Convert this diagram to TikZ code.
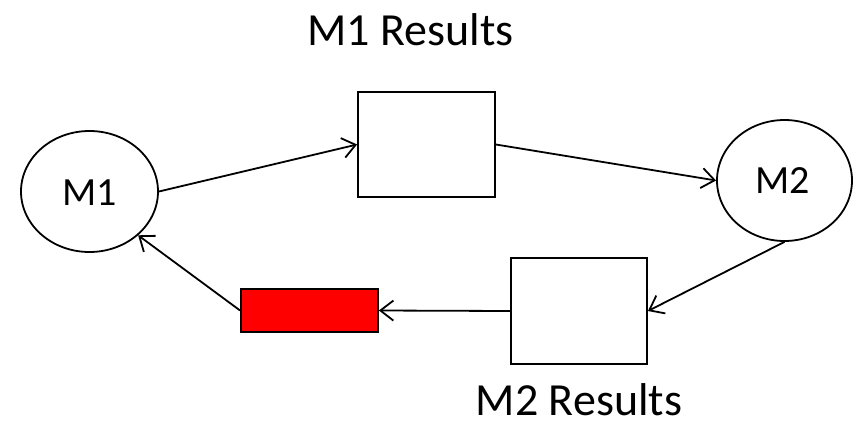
\documentclass[tikz,border=0pt]{standalone}
\usepackage{fontspec}
\setmainfont{Carlito}
\usetikzlibrary{shapes.geometric,arrows.meta}
\tikzset{
  stateell/.style={draw=black,line width=1.8pt,ellipse,inner sep=0pt,fill=white},
  resbox/.style={draw=black,line width=1.8pt,rectangle,inner sep=0pt,fill=white},
  conn/.style={line width=1.8pt,-{Straight Barb[length=13pt,width=20pt,line width=1.8pt]}},
  lbl/.style={font=\fontsize{40}{40}\selectfont,inner sep=0pt},
  ttl/.style={font=\fontsize{46}{46}\selectfont,inner sep=0pt,anchor=base}
}
\begin{document}
\begin{tikzpicture}[x=1pt,y=-1pt]
\useasboundingbox (0,0) rectangle (859,426);
\node[stateell,minimum width=137pt,minimum height=121pt] (m1) at (89.5,191.5) {};
\node[lbl] at (90,193) {M1};
\node[stateell,minimum width=135pt,minimum height=121pt] (m2) at (784.5,180.5) {};
\node[lbl] at (783,181) {M2};
\node[resbox,minimum width=137pt,minimum height=105pt] (b1) at (426.5,144.5) {};
\node[resbox,minimum width=136pt,minimum height=106pt] (b2) at (579,311) {};
\node[resbox,fill=red,minimum width=137pt,minimum height=43pt] (rd) at (309.5,310.5) {};
\node[ttl] (t1) at (410.5,45) {M1 Results};
\node[ttl] (t2) at (579,415) {M2 Results};
\draw[conn] (m1.east) -- (b1.west);
\draw[conn] (b1.east) -- (m2.west);
\draw[conn] (m2.south) -- (b2.east);
\draw[conn] (b2.west) -- (rd.east);
\draw[conn] (rd.west) -- (m1.-42);
\end{tikzpicture}
\end{document}
